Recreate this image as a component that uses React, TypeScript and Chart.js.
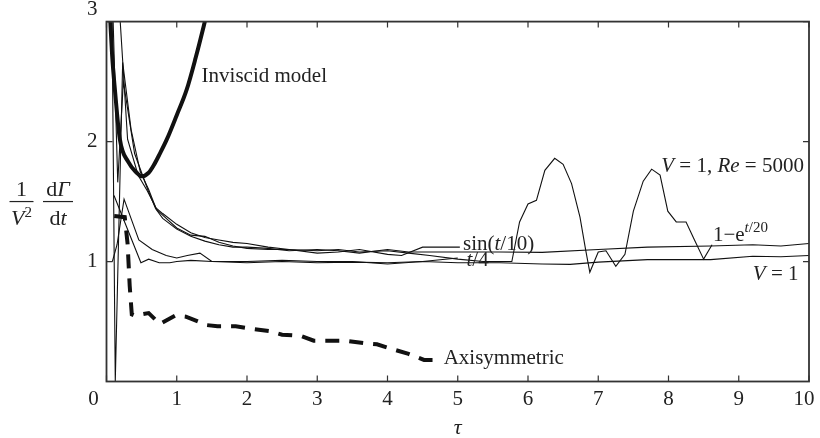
import React, { useEffect, useRef } from 'react';
import { Chart, registerables } from 'chart.js';
Chart.register(...registerables);

const FONT = '"Liberation Serif", "Times New Roman", serif';
const INK = '#111';

// axis ticks
const xTickValues = [0, 1, 2, 3, 4, 5, 6, 7, 8, 9, 10];
const yTickValues = [0, 1, 2, 3];
// tick labels that sit in the corners (drawn nudged, as in the original figure)
const cornerXLabels = [{ v: 0, dx: -13 }, { v: 10, dx: -5 }];
const cornerYLabels = [{ v: 3, dy: -12 }];

// Inviscid model (thick)
const inviscidTau = [0.05, 0.08, 0.12, 0.19, 0.31, 0.43, 0.5, 0.6, 0.67, 0.76, 0.86, 1.0, 1.14, 1.27, 1.4, 1.45];
const inviscidVal = [3.05, 2.72, 2.43, 2.02, 1.83, 1.74, 1.71, 1.74, 1.8, 1.9, 2.02, 2.22, 2.43, 2.7, 3.0, 3.12];

// V = 1, Re = 5000
const reTau = [0.075, 0.125, 0.23, 0.35, 0.48, 0.6, 0.7, 0.8, 1.0, 1.2, 1.4, 1.6, 1.8, 2.0, 2.3, 2.6, 3.0, 3.3, 3.6, 4.0, 4.3, 4.6, 5.0, 5.36, 5.77, 5.88, 6.0, 6.12, 6.24, 6.38, 6.5, 6.62, 6.74, 6.82, 6.88, 7.0, 7.11, 7.25, 7.38, 7.5, 7.64, 7.76, 7.88, 7.99, 8.11, 8.25, 8.37, 8.5, 8.62];
const reVal = [3.3, 0.0, 2.66, 2.1, 1.75, 1.6, 1.45, 1.4, 1.31, 1.24, 1.2, 1.18, 1.16, 1.15, 1.12, 1.1, 1.09, 1.1, 1.08, 1.09, 1.07, 1.05, 1.02, 1.0, 1.0, 1.33, 1.48, 1.51, 1.76, 1.86, 1.81, 1.65, 1.37, 1.1, 0.91, 1.08, 1.09, 0.96, 1.06, 1.42, 1.67, 1.77, 1.72, 1.42, 1.33, 1.33, 1.18, 1.02, 1.14];

// sin(t/10)
const sinTau = [0.19, 0.3, 0.45, 0.58, 0.72, 0.85, 1.0, 1.2, 1.4, 1.6, 1.8, 2.0, 2.3, 2.6, 3.0, 3.3, 3.6, 4.0, 4.2, 4.5, 5.03];
const sinVal = [3.05, 2.02, 1.72, 1.59, 1.43, 1.36, 1.28, 1.22, 1.21, 1.16, 1.13, 1.11, 1.1, 1.1, 1.07, 1.08, 1.1, 1.06, 1.05, 1.12, 1.12];

// 1 - e^{t/20}
const expTau = [0.08, 0.16, 0.24, 0.4, 0.6, 0.7, 0.8, 1.0, 1.2, 1.4, 1.6, 1.8, 2.0, 2.3, 2.6, 3.0, 3.3, 3.6, 4.0, 4.3, 4.6, 5.0, 5.6, 6.2, 7.0, 7.7, 8.6, 9.2, 9.6, 10.0];
const expVal = [3.3, 1.66, 2.5, 1.9, 1.58, 1.44, 1.36, 1.27, 1.21, 1.17, 1.14, 1.12, 1.12, 1.11, 1.09, 1.1, 1.09, 1.07, 1.1, 1.08, 1.08, 1.08, 1.08, 1.076, 1.1, 1.12, 1.13, 1.14, 1.13, 1.15];

// V = 1
const v1Tau = [0.107, 0.49, 0.6, 0.75, 0.9, 1.0, 1.2, 1.5, 2.0, 2.5, 3.0, 3.5, 4.0, 4.5, 5.0, 5.6, 6.2, 6.6, 7.0, 7.7, 8.6, 9.2, 9.6, 10.0];
const v1Val = [1.55, 0.99, 1.02, 0.99, 0.99, 1.0, 1.01, 1.0, 0.99, 1.0, 0.99, 0.995, 0.99, 1.0, 0.99, 0.99, 0.98, 0.976, 0.995, 1.016, 1.016, 1.044, 1.04, 1.05];

// t/4
const t4Tau = [0.083, 0.15, 0.25, 0.46, 0.65, 0.85, 1.0, 1.15, 1.33, 1.5, 2.0, 2.5, 3.0, 3.5, 4.0, 4.5, 5.0];
const t4Val = [1.0, 1.14, 1.52, 1.18, 1.1, 1.05, 1.03, 1.05, 1.07, 1.0, 1.0, 1.01, 1.0, 1.0, 0.98, 1.0, 1.03];

// Axisymmetric (thick dashed)
const axiTau = [0.11, 0.26, 0.3, 0.33, 0.36, 0.4, 0.6, 0.76, 0.98, 1.13, 1.43, 1.58, 1.84, 2.06, 2.32, 2.5, 2.77, 2.95, 3.4, 3.66, 3.85, 4.07, 4.3, 4.52, 4.7];
const axiVal = [1.38, 1.37, 1.15, 0.8, 0.56, 0.55, 0.57, 0.48, 0.55, 0.54, 0.47, 0.46, 0.46, 0.44, 0.42, 0.39, 0.38, 0.34, 0.34, 0.32, 0.31, 0.27, 0.23, 0.18, 0.18];

type Part = { t: string; italic?: boolean; size?: number; dy?: number };

// curve labels: anchor (tau, value) of the text's left baseline
const curveLabels: { tau: number; val: number; parts: Part[] }[] = [
  { tau: 1.354, val: 2.496, parts: [{ t: 'Inviscid model' }] },
  { tau: 7.897, val: 1.747, parts: [{ t: 'V', italic: true }, { t: ' = 1, ' }, { t: 'Re', italic: true }, { t: ' = 5000' }] },
  { tau: 8.632, val: 1.170, parts: [{ t: '1−e' }, { t: 't', italic: true, size: 15, dy: -9 }, { t: '/20', size: 15, dy: -9 }] },
  { tau: 9.2, val: 0.85, parts: [{ t: 'V', italic: true }, { t: ' = 1' }] },
  { tau: 5.075, val: 1.1, parts: [{ t: 'sin(' }, { t: 't', italic: true }, { t: '/10)' }] },
  { tau: 5.124, val: 0.965, parts: [{ t: 't', italic: true }, { t: '/4' }] },
  { tau: 4.8, val: 0.143, parts: [{ t: 'Axisymmetric' }] },
];

const TICK_FONT = 21;
const X_PAD = 5;
const Y_PAD = 9;

function pts(xs: number[], ys: number[]) {
  return xs.map((x, i) => ({ x, y: ys[i] }));
}

function drawRich(ctx: CanvasRenderingContext2D, x: number, y: number, parts: Part[], base = 21) {
  let cx = x;
  for (const p of parts) {
    const size = p.size ?? base;
    ctx.font = `${p.italic ? 'italic ' : ''}${size}px ${FONT}`;
    ctx.fillText(p.t, cx, y + (p.dy ?? 0));
    cx += ctx.measureText(p.t).width;
  }
}
function richWidth(ctx: CanvasRenderingContext2D, parts: Part[], base = 21) {
  let w = 0;
  for (const p of parts) {
    const size = p.size ?? base;
    ctx.font = `${p.italic ? 'italic ' : ''}${size}px ${FONT}`;
    w += ctx.measureText(p.t).width;
  }
  return w;
}

const decorPlugin = {
  id: 'decor',
  afterDraw(chart: any) {
    const ctx: CanvasRenderingContext2D = chart.ctx;
    const { left, right, top, bottom } = chart.chartArea;
    const xs = chart.scales.x;
    const ys = chart.scales.y;
    ctx.save();
    // frame
    ctx.strokeStyle = '#333';
    ctx.lineWidth = 1.8;
    ctx.strokeRect(left, top, right - left, bottom - top);
    // inward ticks
    ctx.lineWidth = 1.2;
    ctx.beginPath();
    const tl = 6;
    for (const v of xTickValues) {
      const px = xs.getPixelForValue(v);
      ctx.moveTo(px, bottom); ctx.lineTo(px, bottom - tl);
      ctx.moveTo(px, top); ctx.lineTo(px, top + tl);
    }
    for (const v of yTickValues) {
      const py = ys.getPixelForValue(v);
      ctx.moveTo(left, py); ctx.lineTo(left + tl, py);
      ctx.moveTo(right, py); ctx.lineTo(right - tl, py);
    }
    ctx.stroke();

    // corner tick labels
    ctx.fillStyle = '#222';
    ctx.font = `${TICK_FONT}px ${FONT}`;
    ctx.textBaseline = 'middle';
    ctx.textAlign = 'center';
    for (const c of cornerXLabels) {
      ctx.fillText(String(c.v), xs.getPixelForValue(c.v) + c.dx, bottom + X_PAD + TICK_FONT * 0.6);
    }
    ctx.textAlign = 'right';
    for (const c of cornerYLabels) {
      ctx.fillText(String(c.v), left - Y_PAD, ys.getPixelForValue(c.v) + c.dy);
    }

    // curve labels
    ctx.textBaseline = 'alphabetic';
    ctx.textAlign = 'left';
    for (const l of curveLabels) {
      drawRich(ctx, xs.getPixelForValue(l.tau), ys.getPixelForValue(l.val), l.parts);
    }

    // y-axis title: 1/V^2 dΓ/dt
    const midY = (top + bottom) / 2;
    const fs = 22;
    const num1: Part[] = [{ t: '1' }];
    const den1: Part[] = [{ t: 'V', italic: true }, { t: '2', size: 15, dy: -8 }];
    const num2: Part[] = [{ t: 'd' }, { t: 'Γ', italic: true }];
    const den2: Part[] = [{ t: 'd' }, { t: 't', italic: true }];
    const fracs = [
      { cx: 21.5, w: 24, n: num1, d: den1 },
      { cx: 58, w: 30, n: num2, d: den2 },
    ];
    for (const f of fracs) {
      const nw = richWidth(ctx, f.n, fs);
      const dw = richWidth(ctx, f.d, fs);
      drawRich(ctx, f.cx - nw / 2, midY - 6, f.n, fs);
      drawRich(ctx, f.cx - dw / 2, midY + 23, f.d, fs);
      ctx.strokeStyle = '#222';
      ctx.lineWidth = 1.2;
      ctx.beginPath();
      ctx.moveTo(f.cx - f.w / 2, midY);
      ctx.lineTo(f.cx + f.w / 2, midY);
      ctx.stroke();
    }

    // x-axis title τ
    ctx.font = `italic 22px ${FONT}`;
    ctx.textAlign = 'center';
    ctx.fillText('τ', (left + right) / 2, bottom + 52);
    ctx.restore();
  },
};

export default function App() {
  const ref = useRef<HTMLCanvasElement | null>(null);
  useEffect(() => {
    if (!ref.current) return;
    const thin = { borderColor: INK, borderWidth: 1.1, pointRadius: 0, showLine: true, tension: 0, fill: false };
    const hiddenX = new Set(cornerXLabels.map((c) => c.v));
    const hiddenY = new Set([0, ...cornerYLabels.map((c) => c.v)]);
    const chart = new Chart(ref.current, {
      type: 'scatter',
      data: {
        datasets: [
          { ...thin, label: 'V = 1, Re = 5000', data: pts(reTau, reVal) },
          { ...thin, label: 'sin(t/10)', data: pts(sinTau, sinVal) },
          { ...thin, label: '1−e^{t/20}', data: pts(expTau, expVal) },
          { ...thin, label: 'V = 1', data: pts(v1Tau, v1Val) },
          { ...thin, label: 't/4', data: pts(t4Tau, t4Val) },
          {
            label: 'Inviscid model', data: pts(inviscidTau, inviscidVal), borderColor: INK, borderWidth: 4,
            pointRadius: 0, showLine: true, cubicInterpolationMode: 'monotone', fill: false,
          },
          {
            label: 'Axisymmetric', data: pts(axiTau, axiVal), borderColor: INK, borderWidth: 4,
            borderDash: [14, 10], pointRadius: 0, showLine: true, tension: 0, fill: false,
          },
        ] as any,
      },
      options: {
        animation: false,
        responsive: false,
        layout: { padding: { left: 0, right: 11, top: 13, bottom: 0 } },
        plugins: { legend: { display: false }, tooltip: { enabled: false } },
        scales: {
          x: {
            type: 'linear', min: 0, max: 10,
            grid: { display: false, drawTicks: false, tickLength: 0 }, border: { display: false },
            ticks: {
              stepSize: 1, autoSkip: false, maxRotation: 0, padding: X_PAD, color: '#222',
              font: { family: FONT, size: TICK_FONT },
              callback: (v: any) => (hiddenX.has(v) ? '' : String(v)),
            },
            afterFit: (s: any) => { s.height = 56.5; },
          },
          y: {
            type: 'linear', min: 0, max: 3,
            grid: { display: false, drawTicks: false, tickLength: 0 }, border: { display: false },
            ticks: {
              stepSize: 1, padding: Y_PAD, color: '#222', font: { family: FONT, size: TICK_FONT },
              callback: (v: any) => (hiddenY.has(v) ? '' : String(v)),
            },
            afterFit: (s: any) => { s.width = 106.5; },
          },
        },
      } as any,
      plugins: [decorPlugin],
    });
    return () => chart.destroy();
  }, []);
  return (
    <div style={{ position: 'absolute', left: 0, top: 0, width: 820, height: 438, background: '#fff' }}>
      <canvas ref={ref} width={820} height={438} style={{ width: 820, height: 438, display: 'block' }} />
    </div>
  );
}
